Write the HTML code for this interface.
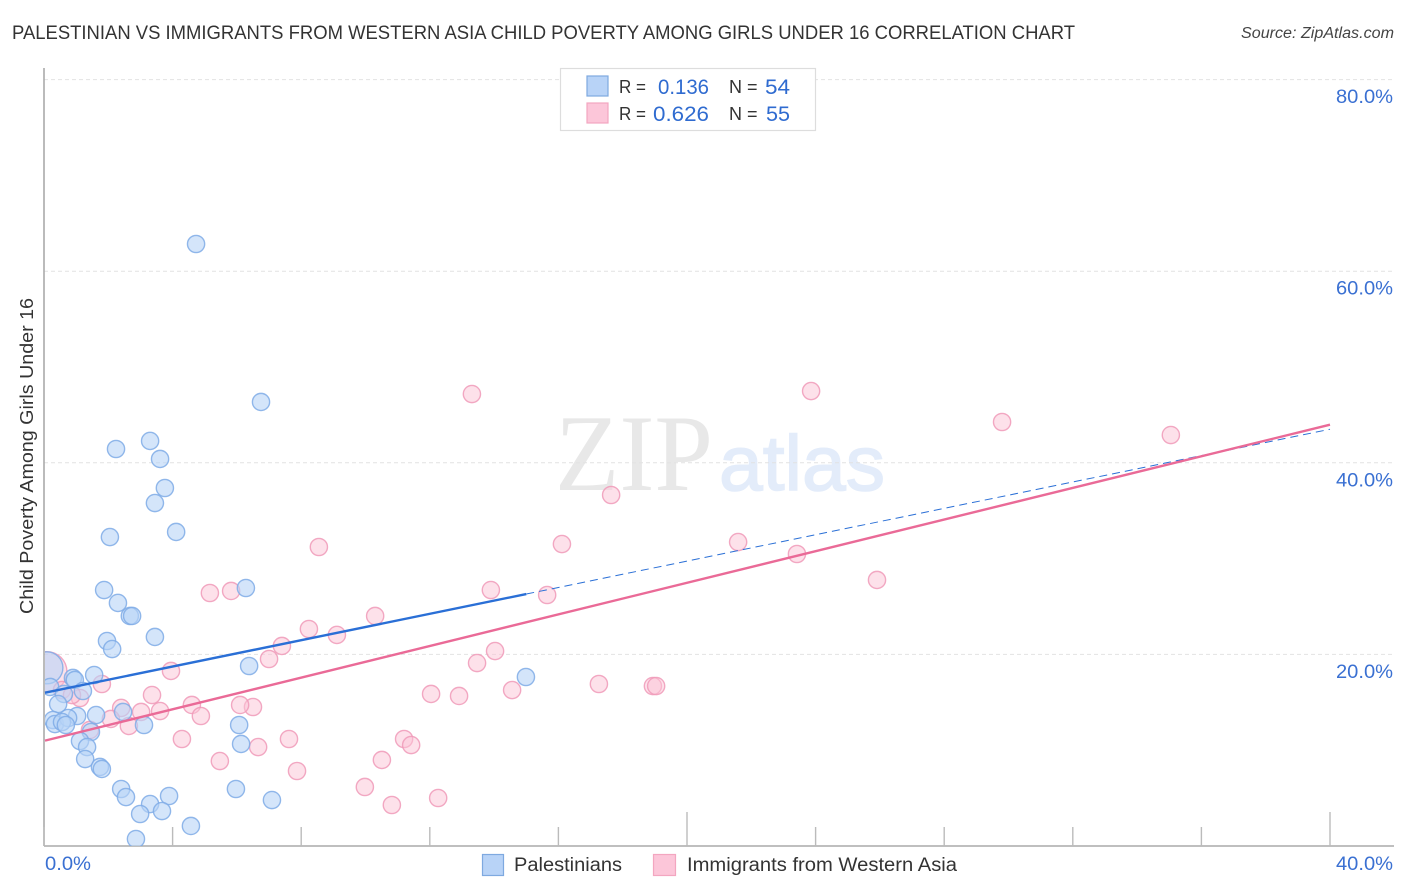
<!DOCTYPE html>
<html lang="en">
<head>
<meta charset="utf-8">
<title>Palestinian vs Immigrants from Western Asia Child Poverty Chart</title>
<style>
html,body{margin:0;padding:0;background:#fff;}
body{width:1406px;height:892px;overflow:hidden;}
svg{display:block;font-family:"Liberation Sans",sans-serif;}
</style>
</head>
<body>
<svg id="chart" width="1406" height="892" viewBox="0 0 1406 892" xmlns="http://www.w3.org/2000/svg">
  <defs><clipPath id="plot-clip"><rect x="45" y="60" width="1350" height="786"/></clipPath></defs>
  <rect x="0" y="0" width="1406" height="892" fill="#fff"/>
  <text x="12" y="39" font-size="19" fill="#333" textLength="1063" lengthAdjust="spacingAndGlyphs">PALESTINIAN VS IMMIGRANTS FROM WESTERN ASIA CHILD POVERTY AMONG GIRLS UNDER 16 CORRELATION CHART</text>
  <text x="1241" y="38" font-size="15.5" font-style="italic" fill="#444" textLength="153" lengthAdjust="spacingAndGlyphs">Source: ZipAtlas.com</text>
  <text x="555" y="490" font-family="'Liberation Serif',serif" font-size="109" fill="#e8e8e8" textLength="158" lengthAdjust="spacingAndGlyphs">ZIP</text>
  <text x="719" y="490" font-size="78" fill="#e3ecfa" stroke="#e3ecfa" stroke-width="1.5" textLength="166" lengthAdjust="spacingAndGlyphs">atlas</text>
  <g id="grid"></g>
  <g id="axes"></g>
  <g id="marks" clip-path="url(#plot-clip)"></g>
  <g id="trends"></g>
  <g>
    <rect x="560.5" y="68.5" width="255" height="62" fill="#fff" stroke="#ddd" stroke-width="1.2"/>
    <rect x="587" y="76" width="21" height="20" fill="#b8d3f7" stroke="#7ea9e0" stroke-width="1.2"/>
    <rect x="587" y="103" width="21" height="20" fill="#fcc6d9" stroke="#f3a6c0" stroke-width="1.2"/>
    <text x="619" y="93" font-size="18" fill="#333" textLength="27" lengthAdjust="spacingAndGlyphs">R =</text>
    <text x="658" y="94" font-size="21" fill="#2f6bd0" textLength="51" lengthAdjust="spacingAndGlyphs">0.136</text>
    <text x="729" y="93" font-size="18" fill="#333">N =</text>
    <text x="765" y="94" font-size="21" fill="#2f6bd0" textLength="25" lengthAdjust="spacingAndGlyphs">54</text>
    <text x="619" y="120" font-size="18" fill="#333" textLength="27" lengthAdjust="spacingAndGlyphs">R =</text>
    <text x="653" y="121" font-size="21" fill="#2f6bd0" textLength="56" lengthAdjust="spacingAndGlyphs">0.626</text>
    <text x="729" y="120" font-size="18" fill="#333">N =</text>
    <text x="766" y="121" font-size="21" fill="#2f6bd0" textLength="24" lengthAdjust="spacingAndGlyphs">55</text>
  </g>
  <text transform="translate(33,456) rotate(-90)" font-size="18" fill="#333" text-anchor="middle" textLength="316" lengthAdjust="spacingAndGlyphs">Child Poverty Among Girls Under 16</text>
  <g>
    <rect x="482.5" y="854.5" width="21" height="21" fill="#b8d3f7" stroke="#7ea9e0" stroke-width="1.2"/>
    <text x="514" y="871" font-size="19" fill="#333" textLength="108" lengthAdjust="spacingAndGlyphs">Palestinians</text>
    <rect x="653.5" y="854.5" width="22" height="21" fill="#fcc6d9" stroke="#f3a6c0" stroke-width="1.2"/>
    <text x="687" y="871" font-size="19" fill="#333" textLength="270" lengthAdjust="spacingAndGlyphs">Immigrants from Western Asia</text>
  </g>
</svg>
<script>
const yTickValues = [20, 40, 60, 80];
const yTickLabels = ["20.0%", "40.0%", "60.0%", "80.0%"];
const xMinorTicks = [0, 4, 8, 12, 16, 24, 28, 32, 36];
const xMajorTicks = [20, 40];
const xEdgeValues = [0, 40];
const xEdgeLabels = ["0.0%", "40.0%"];

const palestinianX = [4.73,6.75,3.30,2.24,3.61,3.76,3.45,4.11,2.05,1.87,6.28,2.30,2.67,2.74,3.45,1.96,2.12,6.38,14.99,1.56,0.90,0.96,1.21,0.19,0.62,0.44,1.03,1.62,0.28,0.34,0.75,0.56,0.68,2.46,3.11,6.07,1.46,1.12,6.13,1.34,1.28,1.74,1.80,2.40,5.97,2.55,7.09,3.89,3.30,2.99,3.67,4.57,2.86];
const palestinianY = [62.84,46.35,42.28,41.44,40.40,37.37,35.80,32.78,32.25,26.72,26.93,25.37,24.01,24.01,21.82,21.40,20.56,18.79,17.64,17.85,17.54,17.33,16.18,16.60,15.87,14.82,13.57,13.67,13.15,12.73,13.36,12.94,12.63,13.99,12.63,12.63,11.90,10.96,10.65,10.33,9.08,8.25,8.04,5.95,5.95,5.11,4.80,5.22,4.38,3.34,3.65,2.09,0.73];
const palestinianClusterX = [0.09];
const palestinianClusterY = [18.6];

const immigrantX = [13.31,23.86,29.80,35.05,17.64,8.55,16.11,21.59,23.42,25.91,5.16,5.82,13.90,15.65,10.30,8.24,9.11,7.40,14.03,7.00,13.47,3.95,1.80,17.26,18.94,19.04,14.56,12.04,12.91,3.36,4.60,2.40,6.50,6.10,4.88,3.02,3.61,2.08,2.64,1.43,7.62,4.29,11.20,11.42,6.66,10.51,5.47,7.87,9.98,10.82,12.26,1.12,0.56,0.87];
const immigrantY = [47.18,47.49,44.26,42.90,36.64,31.21,31.52,31.73,30.48,27.77,26.41,26.62,26.72,26.20,24.01,22.65,22.03,20.88,20.35,19.52,19.10,18.27,16.91,16.91,16.70,16.70,16.28,15.87,15.66,15.76,14.72,14.41,14.51,14.72,13.57,13.99,14.09,13.26,12.53,12.11,11.17,11.17,11.17,10.54,10.33,8.98,8.87,7.83,6.16,4.28,5.01,15.45,16.28,15.76];
const immigrantClusterX = [0.09];
const immigrantClusterY = [18.2];

const palestinianTrendSolidX = [0, 15];
const palestinianTrendSolidY = [16.0, 26.3];
const palestinianTrendDashX = [15, 40];
const palestinianTrendDashY = [26.3, 43.5];
const immigrantTrendX = [0, 40];
const immigrantTrendY = [11.0, 43.98];

const NS = "http://www.w3.org/2000/svg";
function xScale(v) { return 44 + v * 32.15; }
function yScale(v) { return 846 - v * 9.58; }
function make(tag, attrs, parent) {
  const el = document.createElementNS(NS, tag);
  for (const k in attrs) el.setAttribute(k, attrs[k]);
  parent.appendChild(el);
  return el;
}
const gridG = document.getElementById("grid");
const axesG = document.getElementById("axes");
const marksG = document.getElementById("marks");
const trendsG = document.getElementById("trends");

yTickValues.forEach(function (v, i) {
  const line = make("line", {x1: 44, x2: 1394, y1: yScale(v), y2: yScale(v), stroke: "#e2e2e2", "stroke-width": 1, "stroke-dasharray": "4 3"}, gridG);
  
  
  const label = make("text", {x: 1336, y: yScale(v) + 23.5, "font-size": 19.5, fill: "#3a70d2", textLength: 57, lengthAdjust: "spacingAndGlyphs"}, axesG);
  
  
  label.textContent = yTickLabels[i];
});

const yAxis = make("line", {x1: 44, x2: 44, y1: 68, y2: 846, stroke: "#aaa", "stroke-width": 1.6}, axesG);


const xAxis = make("line", {x1: 44, x2: 1394, y1: 846, y2: 846, stroke: "#aaa", "stroke-width": 1.6}, axesG);



xMinorTicks.forEach(function (v) {
  const t = make("line", {x1: xScale(v), x2: xScale(v), y1: 827, y2: 846, stroke: "#bbb", "stroke-width": 1.4}, axesG);
  
  
});
xMajorTicks.forEach(function (v) {
  const t = make("line", {x1: xScale(v), x2: xScale(v), y1: 812, y2: 846, stroke: "#bbb", "stroke-width": 1.4}, axesG);
  
  
});
xEdgeValues.forEach(function (v, i) {
  const isFirst = i === 0;
  const label = make("text", {x: isFirst ? 45 : 1336, y: 870, "font-size": 19.5, fill: "#3a70d2", textLength: isFirst ? 46 : 57, lengthAdjust: "spacingAndGlyphs"}, axesG);
  
  
  label.textContent = xEdgeLabels[i];
});

function drawPoints(xs, ys, r, fill, fillOpacity, stroke, name) {
  xs.forEach(function (v, i) {
    const c = make("circle", {cx: xScale(v), cy: yScale(ys[i]), r: r, fill: fill, "fill-opacity": fillOpacity, stroke: stroke, "stroke-opacity": 0.85, "stroke-width": 1.4}, marksG);
    
    
  });
}
drawPoints(immigrantClusterX, immigrantClusterY, 20, "#fbc4d6", 0.5, "#f09ab8", "immigrant-cluster-point");
drawPoints(palestinianClusterX, palestinianClusterY, 16, "#b8d3f7", 0.6, "#7fabe6", "palestinian-cluster-point");
drawPoints(immigrantX, immigrantY, 8.6, "#fbc4d6", 0.5, "#f09ab8", "immigrant-point");
drawPoints(palestinianX, palestinianY, 8.6, "#b8d3f7", 0.6, "#7fabe6", "palestinian-point");

const dashLine = make("line", {x1: xScale(palestinianTrendDashX[0]), y1: yScale(palestinianTrendDashY[0]), x2: xScale(palestinianTrendDashX[1]), y2: yScale(palestinianTrendDashY[1]), stroke: "#2a6fd6", "stroke-width": 1, "stroke-dasharray": "8 5"}, trendsG);


const solidLine = make("line", {x1: xScale(palestinianTrendSolidX[0]) + 1, y1: yScale(palestinianTrendSolidY[0]), x2: xScale(palestinianTrendSolidX[1]), y2: yScale(palestinianTrendSolidY[1]), stroke: "#2a6fd6", "stroke-width": 2.4}, trendsG);


const pinkLine = make("line", {x1: xScale(immigrantTrendX[0]) + 1, y1: yScale(immigrantTrendY[0]), x2: xScale(immigrantTrendX[1]), y2: yScale(immigrantTrendY[1]), stroke: "#ea6a97", "stroke-width": 2.4}, trendsG);


</script>
</body>
</html>
